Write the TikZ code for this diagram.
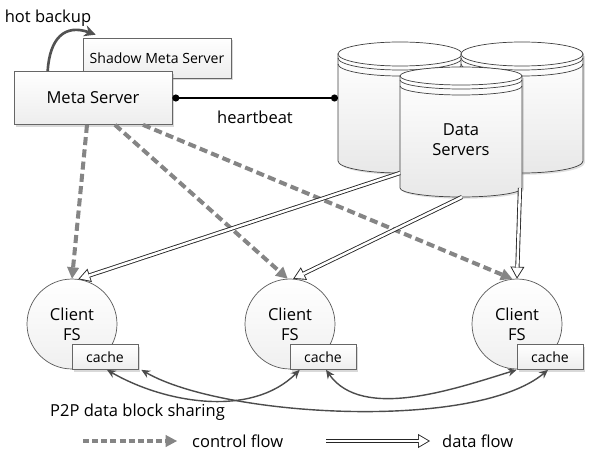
\documentclass[tikz,border=0pt]{standalone}
\usepackage{fontspec}
\setmainfont{Open Sans}
\usepackage{tikz}
\usetikzlibrary{calc,arrows.meta,shadows}

\begin{document}
\begin{tikzpicture}[x=0.02cm, y=0.02cm,
    font=\fontsize{9.4}{11.3}\selectfont,
    server/.style={draw=black!60, top color=white, bottom color=black!7,
        drop shadow={shadow xshift=1.2pt, shadow yshift=-1.2pt, opacity=0.3}},
    client/.style={circle, draw=black!65, top color=white, bottom color=black!6,
        minimum size=1.8cm, inner sep=0pt, align=center},
    cachebox/.style={server, minimum width=1.32cm, minimum height=0.5cm, inner sep=0pt,
        font=\fontsize{8}{9.6}\selectfont},
    control/.style={draw=black!48, line width=2.3pt, dash pattern=on 4.6pt off 2.4pt,
        -{Triangle[length=6.5pt, width=7pt, line width=0pt]}},
    dataflow/.style={draw=white, line width=1.4pt, shorten >=1pt,
        -{Triangle[length=5.3pt, width=6.2pt, line width=0pt]},
        preaction={draw=black!85, line width=2.4pt, shorten >=0pt,
            -{Triangle[length=6.8pt, width=8pt, line width=0pt]}}},
    share/.style={draw=black!70, line width=0.8pt,
        {Stealth[length=5pt, width=4.5pt]}-{Stealth[length=5pt, width=4.5pt]}},
]
% Variables: 1 := centre of top, 2 := ID, 3 := x radius, 4 := y radius, 5 := height.
\def\datastore(#1)#2#3#4#5{
    \begin{scope}[shift={(#1)}]
        \draw[draw=black!75, top color=white, bottom color=black!9,
            drop shadow={shadow xshift=1pt, shadow yshift=-1pt, opacity=0.25}]
            (-#3,0) -- (-#3,-#5) arc[start angle=180, end angle=360, x radius=#3, y radius=#4] -- (#3,0) -- cycle;
        \draw[draw=black!75, fill=white] (0,0) ellipse [x radius=#3, y radius=#4];
        \draw[black!75] (-#3,-4) arc[start angle=180, end angle=360, x radius=#3, y radius=#4];
        \draw[black!75] (-#3,-10) arc[start angle=180, end angle=360, x radius=#3, y radius=#4];
        \coordinate (#2 top) at (0,0);
        \coordinate (#2 west) at (-#3,0);
    \end{scope}
}
% Variables: 1 := centre, 2 := ID.
\def\clientfs(#1)#2{
    \begin{scope}[shift={(#1)}]
        \node[client] (#2) at (0,0) {Client\\FS};
        \node[cachebox] (#2 cache) at (33,-33) {cache};
    \end{scope}
}
\useasboundingbox (0,0) rectangle (601,-459);

\node[server, minimum width=2.96cm, minimum height=0.8cm, font=\fontsize{8}{9.6}\selectfont] (shadow) at (157,-58) {Shadow Meta Server};
\node[server, minimum width=3.16cm, minimum height=1.06cm] (meta) at (93,-98) {Meta Server};
\node[] (backup) at (48,-18) {hot backup};
\draw[draw=black!68, line width=1.5pt, -{Stealth[length=6.5pt, width=6.5pt]}]
    ($(meta.north west)+(34,0)$) .. controls +(2,33) and +(-31,11) .. ($(shadow.north west)+(13,3)$);

\datastore(400,-54){dsl}{62}{12}{107}
\datastore(522,-54){dsr}{61}{12}{107}
\datastore(461,-76){ds}{61}{9}{112}
\node[align=center] (dstext) at (461,-140) {Data\\Servers};

\draw[line width=0.8pt, {Circle[length=4pt]}-{Circle[length=4pt]}] (meta.east) -- (meta.east -| dsl west);
\node[] (heartbeat) at (255,-117) {heartbeat};

\clientfs(72,-324){c1}
\clientfs(290,-324){c2}
\clientfs(517,-324){c3}

\draw[control] ($(meta.south)+(-6,0)$) -- (c1.90);
\draw[control] ($(meta.south)+(22,0)$) -- (c2.93);
\draw[control] ($(meta.south)+(50,0)$) -- (c3.96);

\draw[dataflow] ($(ds top)+(-61,-97)$) -- (c1.82);
\draw[dataflow] ($(ds top)+(1,-121)$) -- (c2.86);
\draw[dataflow] ($(ds top)+(59,-112)$) -- (c3.90);

\draw[share] ($(c1 cache.south)+(2,0)$) to[out=-30, in=-135, looseness=0.9] ($(c2 cache.south west)+(10,0)$);
\draw[share] ($(c1 cache.south east)+(3,0)$) to[out=-30, in=-140, looseness=0.6] ($(c3 cache.south)+(-2,0)$);
\draw[share] ($(c2 cache.south)+(3,0)$) to[out=-55, in=-163, looseness=0.85] (c3 cache.south west);
\node[anchor=west] (p2p) at (44,-412) {P2P data block sharing};

\coordinate (ctl a) at (83,-441);
\coordinate (ctl b) at (177,-441);
\draw[control, line width=1.8pt, dash pattern=on 3.4pt off 1.8pt] (ctl a) -- (ctl b);
\node[anchor=west] (ctl) at (186,-441) {control flow};
\coordinate (dat a) at (326,-441);
\coordinate (dat b) at (430,-441);
\draw[dataflow] (dat a) -- (dat b);
\node[anchor=west] (dat) at (436,-441) {data flow};
\end{tikzpicture}
\end{document}
